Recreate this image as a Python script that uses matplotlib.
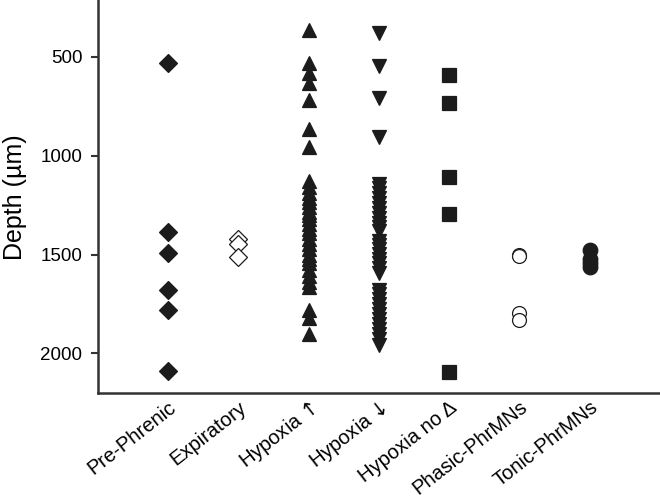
import matplotlib
matplotlib.use('Agg')
import matplotlib.pyplot as plt

plt.rcParams['font.family'] = ['Liberation Sans', 'DejaVu Sans']

# groups along the x axis
groups = ['Pre-Phrenic', 'Expiratory', 'Hypoxia $\\!\\uparrow$', 'Hypoxia $\\!\\downarrow$',
          'Hypoxia no \u0394', 'Phasic-PhrMNs', 'Tonic-PhrMNs']

# depth values (um)
pre_phrenic = [530, 1385, 1494, 1680, 1781, 2088]
expiratory = [1419, 1449, 1512]
hypoxia_up = [365, 534, 584, 635, 720, 867, 958,
              1130, 1160, 1190, 1215, 1235, 1260, 1285, 1300, 1320, 1345,
              1370, 1390, 1420, 1445, 1470, 1500, 1520, 1545, 1580,
              1610, 1640, 1665, 1780, 1820, 1900]
hypoxia_down = [382, 546, 706, 906,
                1145, 1165, 1190, 1215, 1240, 1265, 1290, 1315, 1340, 1360, 1380,
                1430, 1450, 1470, 1495, 1520, 1545, 1570, 1595,
                1680, 1700, 1725, 1750, 1775, 1800, 1825, 1850, 1875, 1900,
                1925, 1955]
hypoxia_none = [593, 733, 1110, 1295, 2096]
phasic = [1500, 1508, 1796, 1833]
tonic = [1475, 1522, 1545, 1565]

series = [pre_phrenic, expiratory, hypoxia_up, hypoxia_down, hypoxia_none, phasic, tonic]
# marker, size, filled
styles = [('D', 9.5, True), ('D', 9.5, False), ('^', 10.5, True), ('v', 10.5, True),
          ('s', 10, True), ('o', 10, False), ('o', 10.5, True)]

ink = '#1c1c1c'

fig = plt.figure(figsize=(6.6, 4.98), dpi=100)
ax = fig.add_axes([0.148, 0.21, 0.852, 0.79])

for i, (vals, (m, ms, filled)) in enumerate(zip(series, styles)):
    ax.plot([i + 1] * len(vals), vals, linestyle='none', marker=m, markersize=ms,
            markerfacecolor=ink if filled else 'white', markeredgecolor=ink,
            markeredgewidth=0.9)

ax.set_xlim(0, 8)
ax.set_ylim(2202, 213)
ax.set_yticks([500, 1000, 1500, 2000])
ax.set_xticks(range(1, len(groups) + 1))
ax.set_xticklabels(groups, rotation=38, ha='right', rotation_mode='anchor', fontsize=14.5)
ax.tick_params(axis='x', length=0, pad=3)
ax.tick_params(axis='y', labelsize=13.5, length=5, width=1.5, color='#333333', pad=6)
ax.set_ylabel('Depth (\u00b5m)', fontsize=18, labelpad=10)

for side in ['top', 'right']:
    ax.spines[side].set_visible(False)
for side in ['left', 'bottom']:
    ax.spines[side].set_linewidth(1.8)
    ax.spines[side].set_color('#333333')

fig.savefig('out.png', dpi=100)
